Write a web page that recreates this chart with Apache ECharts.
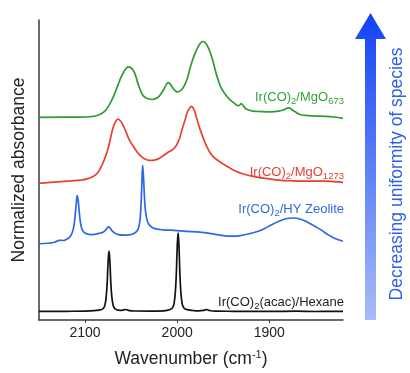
<!DOCTYPE html>
<html>
<head>
<meta charset="utf-8">
<script src="https://cdn.jsdelivr.net/npm/echarts@6/dist/echarts.min.js"></script>
<style>
  html, body { margin: 0; padding: 0; background: #fff; }
  #chart { width: 410px; height: 373px; }
</style>
</head>
<body>
<div id="chart"></div>
<script>
// wavenumber ticks (cm-1)
var tickValues = [2100, 2000, 1900]

// Ir(CO)2/MgO673 (green)
var mgo673Wn = [2150, 2120, 2105, 2095, 2090, 2086, 2082, 2078, 2074.5, 2071, 2067.5, 2064, 2061, 2058, 2055.5, 2053, 2050, 2047, 2045, 2043, 2040.5, 2038, 2035, 2032.5, 2027, 2021, 2017.5, 2014.5, 2012, 2009.7, 2007.5, 2005, 2002, 1999.5, 1996, 1992.5, 1989, 1985.5, 1982, 1978, 1974.5, 1972, 1969, 1965.5, 1962, 1958, 1955, 1952.5, 1949, 1945, 1941, 1938, 1936, 1933, 1930.5, 1928, 1925, 1918, 1908, 1898, 1890, 1884, 1879, 1875, 1872, 1866, 1858, 1850, 1840, 1830, 1820]
var mgo673Abs = [204.7, 205, 205, 205.3, 205.8, 206.8, 208.5, 211.5, 216, 222, 229.5, 238, 245, 250.5, 254, 255.7, 254.5, 251, 246.5, 240, 233.5, 228, 225, 223.7, 222.7, 224.7, 228.5, 233, 237.5, 239.7, 238, 234.7, 231.5, 230.3, 232, 236.3, 244, 256, 266, 274.7, 280, 281.3, 279.5, 273.5, 264, 250, 241, 235, 229.5, 224.7, 221, 219, 217.5, 216.5, 218.5, 216, 213, 211, 210.5, 210.3, 211, 212.5, 214.3, 212, 210.3, 207.3, 206.5, 206, 205.7, 205, 203.7]

// Ir(CO)2/MgO1273 (red)
var mgo1273Wn = [2150, 2130, 2115, 2105, 2098, 2092, 2087, 2083.5, 2080, 2076, 2073, 2070, 2067, 2064.5, 2062, 2059.5, 2056, 2052.5, 2048, 2043.5, 2040, 2036, 2030, 2025, 2020, 2015, 2010.5, 2006, 2002, 1998, 1994.5, 1991.5, 1989, 1986.5, 1984.5, 1982, 1979.5, 1977, 1974, 1970.5, 1967, 1962, 1956, 1950, 1945, 1938, 1930, 1920, 1912, 1900, 1890, 1875, 1865, 1850, 1840, 1830, 1820]
var mgo1273Abs = [138, 139.5, 140.5, 141.3, 142.5, 144.7, 148, 153, 160, 170, 181, 193, 200, 203, 201.5, 198, 191, 183, 176, 169.7, 166, 163, 161.2, 161.5, 163, 166, 169, 171.5, 174.7, 182, 193, 202, 209.7, 214, 215.7, 213, 206, 198, 189.5, 181, 173.5, 166, 161.3, 157.5, 154.7, 151, 148, 145.5, 144, 142.5, 141.3, 140.5, 140.3, 140.3, 140.3, 139.8, 139]

// Ir(CO)2/HY zeolite (blue)
var zeoliteWn = [2150, 2140, 2133, 2128, 2124, 2120, 2117, 2115, 2113, 2111.5, 2110.5, 2109.5, 2108.5, 2107.5, 2106.5, 2105.5, 2104.5, 2103, 2101, 2098, 2094, 2090, 2085, 2080, 2077, 2075.5, 2074.5, 2073, 2071, 2068, 2064, 2058, 2052, 2047, 2044, 2042, 2040.5, 2039.5, 2038.5, 2037.5, 2036.5, 2035.5, 2034.5, 2033, 2031, 2028, 2023, 2015, 2007, 2000, 1990, 1978, 1965, 1955, 1945, 1938, 1930, 1920, 1912, 1905, 1898, 1890, 1882, 1874, 1866, 1858, 1850, 1843, 1836, 1828, 1820]
var zeoliteAbs = [77, 77.5, 78.5, 80.5, 80.3, 81.5, 83.5, 86, 91, 99, 108, 118, 125.7, 121, 111, 102, 96, 91, 88.5, 87, 86.3, 86.5, 87.5, 89, 91.5, 93.5, 94, 93, 90.5, 88, 86.3, 85.8, 86, 87.5, 89.5, 93, 100, 112, 133, 156.3, 143, 124, 111, 102, 97, 94, 92, 91, 90.7, 90.3, 89.5, 89, 87.5, 86, 84.8, 84.7, 85.5, 87.5, 89.7, 92.5, 96, 99.5, 102.3, 103, 101.8, 98.5, 94.5, 90.5, 86, 82, 79.5]

// Ir(CO)2(acac)/hexane (black)
var hexaneWn = [2150, 2120, 2100, 2090, 2085, 2081, 2079, 2078, 2077, 2076, 2075, 2074, 2073, 2072, 2071, 2070, 2069, 2067, 2064, 2060, 2056, 2052, 2045, 2030, 2015, 2010, 2006, 2004, 2003, 2002, 2001, 2000, 1999, 1998, 1997, 1996, 1995, 1994, 1992, 1988, 1983, 1977, 1971, 1968, 1965, 1958, 1940, 1900, 1870, 1850, 1835, 1820]
var hexaneAbs = [8.7, 8.8, 9, 9.4, 10, 11, 13.5, 17, 24, 37, 58, 69.7, 58, 37, 24, 17, 13.5, 11, 10, 9.8, 10.6, 9.5, 9.1, 9, 9.3, 10, 11.5, 14.5, 19, 28, 45, 73, 88, 73, 45, 28, 19, 14.5, 11.5, 10.2, 9.6, 9.3, 9.8, 10.6, 9.6, 9, 8.8, 8.7, 8.9, 8.6, 8.8, 8.7]

function pairs(xs, ys) {
  var out = []
  for (var i = 0; i < xs.length; i++) out.push([xs[i], ys[i]])
  return out
}

var FONT = '"Liberation Sans", Arial, Helvetica, sans-serif'
var chart = echarts.init(document.getElementById('chart'))

function spectrum(name, wn, abs, color) {
  return {
    name: name,
    type: 'line',
    data: pairs(wn, abs),
    showSymbol: false,
    smooth: 0.45,
    lineStyle: { color: color, width: 1.7 },
    silent: true
  }
}

// label with subscripts; parts = [[text, isSub], ...]
function label(parts, x, y, color) {
  var txt = parts.map(function(p) { return (p[1] ? '{s|' : '{m|') + p[0] + '}' }).join('')
  return {
    type: 'text',
    x: x,
    y: y,
    style: {
      text: txt,
      align: 'right',
      verticalAlign: 'middle',
      fill: color,
      rich: {
        m: { fontSize: 13, fontFamily: FONT, lineHeight: 18, fill: color },
        s: { fontSize: 9.5, fontFamily: FONT, lineHeight: 12, verticalAlign: 'bottom', fill: color }
      }
    }
  }
}

var option = {
  animation: false,
  grid: { left: 39, right: 67, top: 20, bottom: 50 },
  xAxis: {
    type: 'value',
    inverse: true,
    min: 1820,
    max: 2150,
    splitNumber: 3,
    name: '{n|Wavenumber (cm}{s|-1}{n|)}',
    nameLocation: 'middle',
    nameGap: 28,
    nameTextStyle: {
      rich: {
        n: { fontSize: 17.5, fontFamily: FONT, color: '#222', lineHeight: 22 },
        s: { fontSize: 11, fontFamily: FONT, color: '#222', lineHeight: 22, verticalAlign: 'top', padding: [1, 0, 0, 0] }
      }
    },
    axisLine: { lineStyle: { color: '#3a3a3a', width: 1.5 } },
    axisTick: { show: true, length: 3, customValues: tickValues, lineStyle: { color: '#3a3a3a' } },
    axisLabel: {
      customValues: tickValues,
      formatter: function(v) { return String(v) },
      fontSize: 14,
      fontFamily: FONT,
      color: '#222',
      margin: 6
    },
    splitLine: { show: false }
  },
  yAxis: {
    type: 'value',
    min: 0,
    max: 303,
    name: 'Normalized absorbance',
    nameLocation: 'middle',
    nameGap: 11,
    nameTextStyle: { fontSize: 17.5, fontFamily: FONT, color: '#222' },
    axisLine: { show: true, lineStyle: { color: '#3a3a3a', width: 1.5 } },
    axisTick: { show: false },
    axisLabel: { show: false },
    splitLine: { show: false }
  },
  series: [
    spectrum('Ir(CO)2/MgO673', mgo673Wn, mgo673Abs, '#2f9a35'),
    spectrum('Ir(CO)2/MgO1273', mgo1273Wn, mgo1273Abs, '#e8402f'),
    spectrum('Ir(CO)2/HY Zeolite', zeoliteWn, zeoliteAbs, '#2e68e6'),
    spectrum('Ir(CO)2(acac)/Hexane', hexaneWn, hexaneAbs, '#111111')
  ],
  graphic: [
    label([['Ir(CO)'], ['2', 1], ['/MgO'], ['673', 1]], 344, 97, '#35a23a'),
    label([['Ir(CO)'], ['2', 1], ['/MgO'], ['1273', 1]], 344, 172, '#e6412f'),
    label([['Ir(CO)'], ['2', 1], ['/HY Zeolite']], 344, 209.5, '#2f6ae6'),
    label([['Ir(CO)'], ['2', 1], ['(acac)/Hexane']], 344, 302, '#222222'),
    {
      type: 'polygon',
      shape: { points: [[365, 320], [365, 39], [355, 39], [370.5, 13], [386, 39], [376, 39], [376, 320]] },
      style: {
        fill: {
          type: 'linear', x: 0, y: 0, x2: 0, y2: 1,
          colorStops: [{ offset: 0, color: '#1242f6' }, { offset: 1, color: '#a8bcf7' }]
        }
      }
    },
    {
      type: 'text',
      x: 397,
      y: 174,
      rotation: Math.PI / 2,
      style: {
        text: 'Decreasing uniformity of species',
        align: 'center',
        verticalAlign: 'middle',
        fill: '#2d5fe8',
        fontSize: 17.5,
        fontFamily: FONT
      }
    }
  ]
}

chart.setOption(option)
window.addEventListener('resize', function() {
  chart.resize()
})
</script>
</body>
</html>
